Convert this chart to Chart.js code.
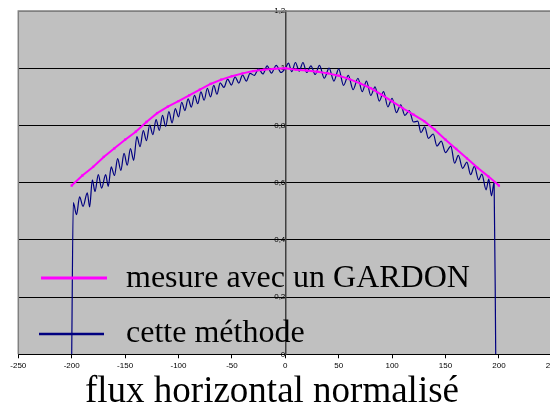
<!DOCTYPE html>
<html><head><meta charset="utf-8">
<script src="https://cdn.jsdelivr.net/npm/chart.js@4.4.0/dist/chart.umd.min.js"></script>
<style>
html,body{margin:0;padding:0;background:#fff;overflow:hidden;width:550px;height:409px}
#wrap{position:absolute;left:0;top:0;width:562px;height:409px}
</style></head>
<body><div id="wrap"><canvas id="c" width="562" height="409"></canvas></div>
<script>
// ---- data ----
const gardonX = [-200,-190,-180,-170,-160,-150,-140,-130,-120,-110,-100,-90,-80,-70,-60,-50,-40,-30,-20,-10,0,10,20,30,40,50,60,70,80,90,100,110,120,130,140,150,160,170,180,190,200];
const gardonY = [0.590,0.625,0.655,0.690,0.720,0.750,0.778,0.812,0.843,0.866,0.885,0.905,0.925,0.945,0.960,0.972,0.982,0.990,0.995,0.998,1.000,0.995,0.992,0.988,0.982,0.974,0.962,0.947,0.930,0.908,0.884,0.860,0.838,0.815,0.785,0.750,0.718,0.685,0.652,0.622,0.590];
const methodX = [-200,-198.5,-195.5,-192.6,-189.4,-185.4,-183.2,-180.7,-178.2,-175.1,-172,-168.2,-165.8,-163,-160,-157,-154,-151,-148,-145,-142,-139,-136,-133,-130,-127,-124,-121,-118,-115,-112,-109,-106,-103,-100,-97,-94,-91,-88,-85,-82,-79,-76,-73,-70,-67,-64,-61,-57.5,-54,-50.5,-47,-43.5,-40,-36.5,-33,-29,-25,-21,-17,-13,-8.5,-4,0,3,6,9.5,13,16.5,20,24,28,32,36.5,41,45.5,50,54.5,59,63.5,68,72,76,80,84,88,92,96,100,104,108,112,116,120,124,127,130.5,134,138.5,142,146,150,155,158.5,162,166,170,173.5,177,181,184,188,190.5,193,195.5,197];
const methodY = [0,0.530,0.488,0.550,0.517,0.564,0.515,0.610,0.569,0.628,0.581,0.628,0.587,0.655,0.625,0.684,0.643,0.702,0.661,0.719,0.678,0.761,0.726,0.782,0.747,0.801,0.768,0.820,0.783,0.835,0.797,0.848,0.809,0.859,0.830,0.881,0.852,0.893,0.864,0.905,0.876,0.917,0.888,0.930,0.900,0.940,0.909,0.949,0.933,0.962,0.941,0.970,0.948,0.977,0.955,0.982,0.975,0.998,0.980,1.008,0.983,1.010,0.985,1.000,1.018,0.988,1.020,0.990,1.020,0.985,1.008,0.978,1.010,0.965,1.000,0.955,0.998,0.940,0.975,0.925,0.965,0.918,0.955,0.905,0.935,0.885,0.918,0.865,0.895,0.845,0.872,0.835,0.852,0.812,0.815,0.775,0.795,0.755,0.770,0.728,0.745,0.705,0.728,0.668,0.695,0.650,0.672,0.628,0.657,0.610,0.630,0.575,0.612,0.554,0.601,0];
const xTickValues = [-250,-200,-150,-100,-50,0,50,100,150,200,250];
const yTickValues = [0,0.2,0.4,0.6,0.8,1,1.2];
const seriesLabels = ['mesure avec un GARDON','cette méthode'];
const xAxisTitle = 'flux horizontal normalisé';

const gardonColor = '#ff00ff';
const methodColor = '#000080';

const plotBg = {
  id:'plotBg',
  beforeDraw(chart){
    const {ctx, chartArea:a} = chart;
    ctx.save();
    ctx.fillStyle = '#c0c0c0';
    ctx.fillRect(a.left, a.top, a.right - a.left, a.bottom - a.top);
    ctx.restore();
  },
  afterDraw(chart){
    const {ctx, chartArea:a} = chart;
    ctx.save();
    ctx.strokeStyle = '#808080';
    ctx.lineWidth = 1.5;
    ctx.beginPath();
    ctx.moveTo(a.left, a.bottom);
    ctx.lineTo(a.left, a.top);
    ctx.lineTo(a.right, a.top);
    ctx.stroke();
    ctx.restore();
  }
};

const insideLegend = {
  id:'insideLegend',
  afterDatasetsDraw(chart){
    const ctx = chart.ctx;
    const rows = [
      {color:gardonColor, x1:41, x2:107, y:278, ty:287, w:3},
      {color:methodColor, x1:39, x2:104, y:334, ty:342, w:2.5}
    ];
    ctx.save();
    rows.forEach((r,i)=>{
      ctx.strokeStyle = r.color; ctx.lineWidth = r.w;
      ctx.beginPath(); ctx.moveTo(r.x1, r.y); ctx.lineTo(r.x2, r.y); ctx.stroke();
      ctx.fillStyle = '#000';
      ctx.font = '32px "Liberation Serif", "Times New Roman", serif';
      ctx.textAlign = 'left'; ctx.textBaseline = 'alphabetic';
      ctx.fillText(seriesLabels[i], 126, r.ty);
    });
    ctx.font = '37px "Liberation Serif", "Times New Roman", serif';
    ctx.textAlign = 'center';
    ctx.fillText(xAxisTitle, 272, 402);
    ctx.restore();
  }
};

new Chart(document.getElementById('c'), {
  type:'line',
  data:{
    datasets:[
      {
        label: seriesLabels[0],
        data: gardonX.map((x,i)=>({x, y:gardonY[i]})),
        borderColor: gardonColor, backgroundColor: gardonColor,
        borderWidth: 2, pointStyle:'rect', pointRadius: 1.6, pointBorderWidth: 0,
        tension: 0, order: 1
      },
      {
        label: seriesLabels[1],
        data: methodX.map((x,i)=>({x, y:methodY[i]})),
        borderColor: methodColor, borderWidth: 1.2, pointRadius: 0,
        cubicInterpolationMode: 'monotone', order: 2
      }
    ]
  },
  options:{
    responsive:false, animation:false, devicePixelRatio:1,
    layout:{padding:{left:18.3, right:8, top:11, bottom:38.5}},
    plugins:{legend:{display:false}, title:{display:false}, tooltip:{enabled:false}},
    scales:{
      x:{
        type:'linear', min:-250, max:250,
        afterBuildTicks: s => { s.ticks = xTickValues.map(v=>({value:v})); },
        afterFit: s => { s.height = 16.2; },
        grid:{drawOnChartArea:false, drawTicks:true, tickLength:4, color:'#000'},
        border:{display:true, color:'#000', width:1},
        ticks:{padding:3, color:'#000', font:{family:'"Liberation Sans", Arial, sans-serif', size:8}, maxRotation:0, autoSkip:false,
          callback: v => String(v)}
      },
      y:{
        type:'linear', min:0, max:1.2, position:{x:0},
        afterBuildTicks: s => { s.ticks = yTickValues.map(v=>({value:v})); },
        grid:{drawOnChartArea:true, drawTicks:true, tickLength:4,
          color: c => (c.tick && c.tick.value === 1.2) ? '#808080' : '#000'},
        border:{display:true, color:'#404040', width:1.5},
        ticks:{padding:1, color:'#000', font:{family:'"Liberation Sans", Arial, sans-serif', size:8},
          callback: v => String(+Number(v).toFixed(1)).replace('.', ',')}
      }
    }
  },
  plugins:[plotBg, insideLegend]
});
</script>
</body></html>
